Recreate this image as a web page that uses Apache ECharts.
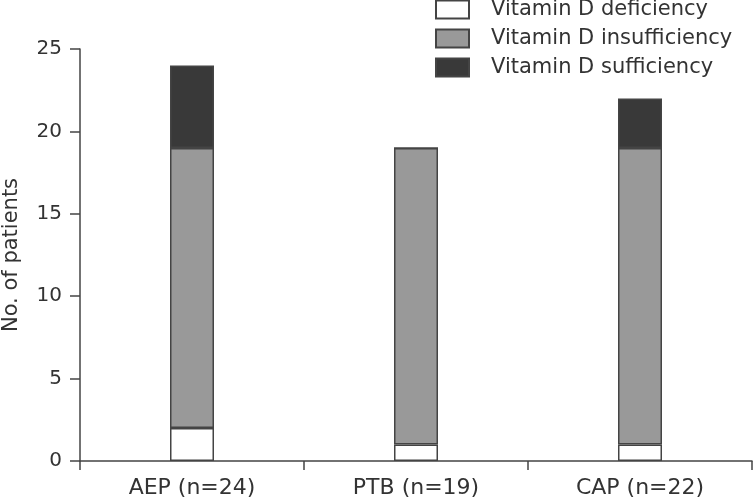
<!DOCTYPE html>
<html>
<head>
<meta charset="utf-8">
<script src="https://cdn.jsdelivr.net/npm/echarts@6/dist/echarts.min.js"></script>
<style>html,body{margin:0;padding:0;background:#fff}#c{width:753px;height:502px}</style>
</head>
<body>
<div id="c"></div>
<script>
const categories = ['AEP (n=24)', 'PTB (n=19)', 'CAP (n=22)'];
const deficiency = [2, 1, 1];
const insufficiency = [17, 18, 18];
const sufficiency = [5, 0, 3];
const seriesNames = ['Vitamin D deficiency', 'Vitamin D insufficiency', 'Vitamin D sufficiency'];

const font = 'DejaVu Sans, sans-serif';
const axisColor = '#444';
const textColor = '#333';
const chart = echarts.init(document.getElementById('c'), null, {renderer: 'canvas'});
function bar(name, data, color) {
  return {
    name, type: 'bar', stack: 'a', data, barWidth: 44,
    itemStyle: {color, borderColor: '#444', borderWidth: 1.5},
    emphasis: {disabled: true}
  };
}
chart.setOption({
  animation: false,
  grid: {left: 80, right: 1, top: 49, bottom: 41, containLabel: false, outerBoundsMode: 'none'},
  legend: {
    orient: 'vertical', left: 435, top: -1, padding: 0,
    itemWidth: 33, itemHeight: 18, itemGap: 8,
    icon: 'rect',
    textStyle: {fontFamily: font, fontSize: 21, color: textColor, padding: [0, 0, 0, 17]},
    data: seriesNames
  },
  xAxis: {
    type: 'category', data: categories,
    axisLine: {lineStyle: {color: axisColor, width: 1.5}},
    axisTick: {show: true, length: 9, lineStyle: {color: axisColor, width: 1.5}},
    axisLabel: {fontFamily: font, fontSize: 22, color: textColor, margin: 16}
  },
  yAxis: {
    type: 'value', min: 0, max: 25, interval: 5,
    name: 'No. of patients', nameLocation: 'middle', nameGap: 58, nameRotate: 90,
    nameTextStyle: {fontFamily: font, fontSize: 21, color: textColor},
    axisLine: {show: true, lineStyle: {color: axisColor, width: 1.5}},
    axisTick: {show: true, length: 10, lineStyle: {color: axisColor, width: 1.5}},
    axisLabel: {fontFamily: font, fontSize: 20, color: textColor, margin: 18},
    splitLine: {show: false}
  },
  series: [
    bar(seriesNames[0], deficiency, '#ffffff'),
    bar(seriesNames[1], insufficiency, '#999999'),
    bar(seriesNames[2], sufficiency, '#393939')
  ]
});
</script>
</body>
</html>
